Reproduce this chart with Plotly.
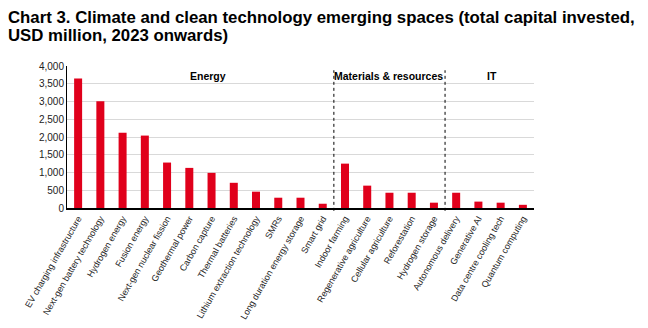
import plotly.graph_objects as go

categories = [
    "EV charging infrastructure", "Next-gen battery technology", "Hydrogen energy",
    "Fusion energy", "Next-gen nuclear fission", "Geothermal power", "Carbon capture",
    "Thermal batteries", "Lithium extraction technology", "SMRs",
    "Long duration energy storage", "Smart grid",
    "Indoor farming", "Regenerative agriculture", "Cellular agriculture",
    "Reforestation", "Hydrogen storage",
    "Autonomous delivery", "Generative AI", "Data centre cooling tech", "Quantum computing",
]
values = [3650, 3010, 2120, 2040, 1280, 1130, 990, 710, 460, 290, 290, 120,
          1250, 630, 430, 430, 150,
          430, 180, 150, 90]

groups = ["Energy", "Materials & resources", "IT"]
group_centers = [5.86, 13.96, 18.6]
group_dividers = [11.5, 16.5]

title_lines = ["Chart 3. Climate and clean technology emerging spaces (total capital invested,",
               "USD million, 2023 onwards)"]

FONT = "Liberation Sans Narrow, Arial Narrow, Liberation Sans, Arial, sans-serif"
TFONT = "Liberation Sans, Arial, sans-serif"

fig = go.Figure()
fig.add_trace(go.Bar(x=list(range(len(categories))), y=values,
                     marker=dict(color="#e0001b", line=dict(width=0)),
                     width=0.36))

for xd in group_dividers:
    fig.add_shape(type="line", xref="x", yref="paper", x0=xd, x1=xd, y0=-0.02, y1=0.97,
                  line=dict(color="black", width=1, dash="dot"))

for g, xc in zip(groups, group_centers):
    fig.add_annotation(x=xc, y=3720, xref="x", yref="y", text="<b>" + g + "</b>",
                       showarrow=False, font=dict(family=FONT, size=10.5, color="black"))

for i, (line, py) in enumerate(zip(title_lines, [17, 35])):
    fig.add_annotation(x=-67 / 467 + 6 / 467, y=(208 - py) / 142, xref="paper", yref="paper",
                       xanchor="left", yanchor="middle", text="<b>" + line + "</b>",
                       showarrow=False, font=dict(family=TFONT, size=16.8, color="black"))

fig.update_layout(
    width=648, height=328,
    margin=dict(l=67, r=114, t=66, b=120),
    paper_bgcolor="white", plot_bgcolor="white",
    showlegend=False,
    xaxis=dict(tickmode="array", tickvals=list(range(len(categories))), ticktext=categories,
               tickangle=-60, range=[-0.5, len(categories) - 0.5], automargin=False,
               showline=True, linecolor="black", linewidth=1.5, ticks="",
               tickfont=dict(family=FONT, size=9, color="#222222"), showgrid=False),
    yaxis=dict(range=[0, 4000], dtick=500, tickformat=",", showgrid=True, gridcolor="#d9d9d9",
               gridwidth=1, showline=True, linecolor="black", linewidth=1, ticks="",
               automargin=False, zeroline=False,
               tickfont=dict(family=FONT, size=10, color="#222222")),
    bargap=0.6,
)

fig.write_html("out.html")
